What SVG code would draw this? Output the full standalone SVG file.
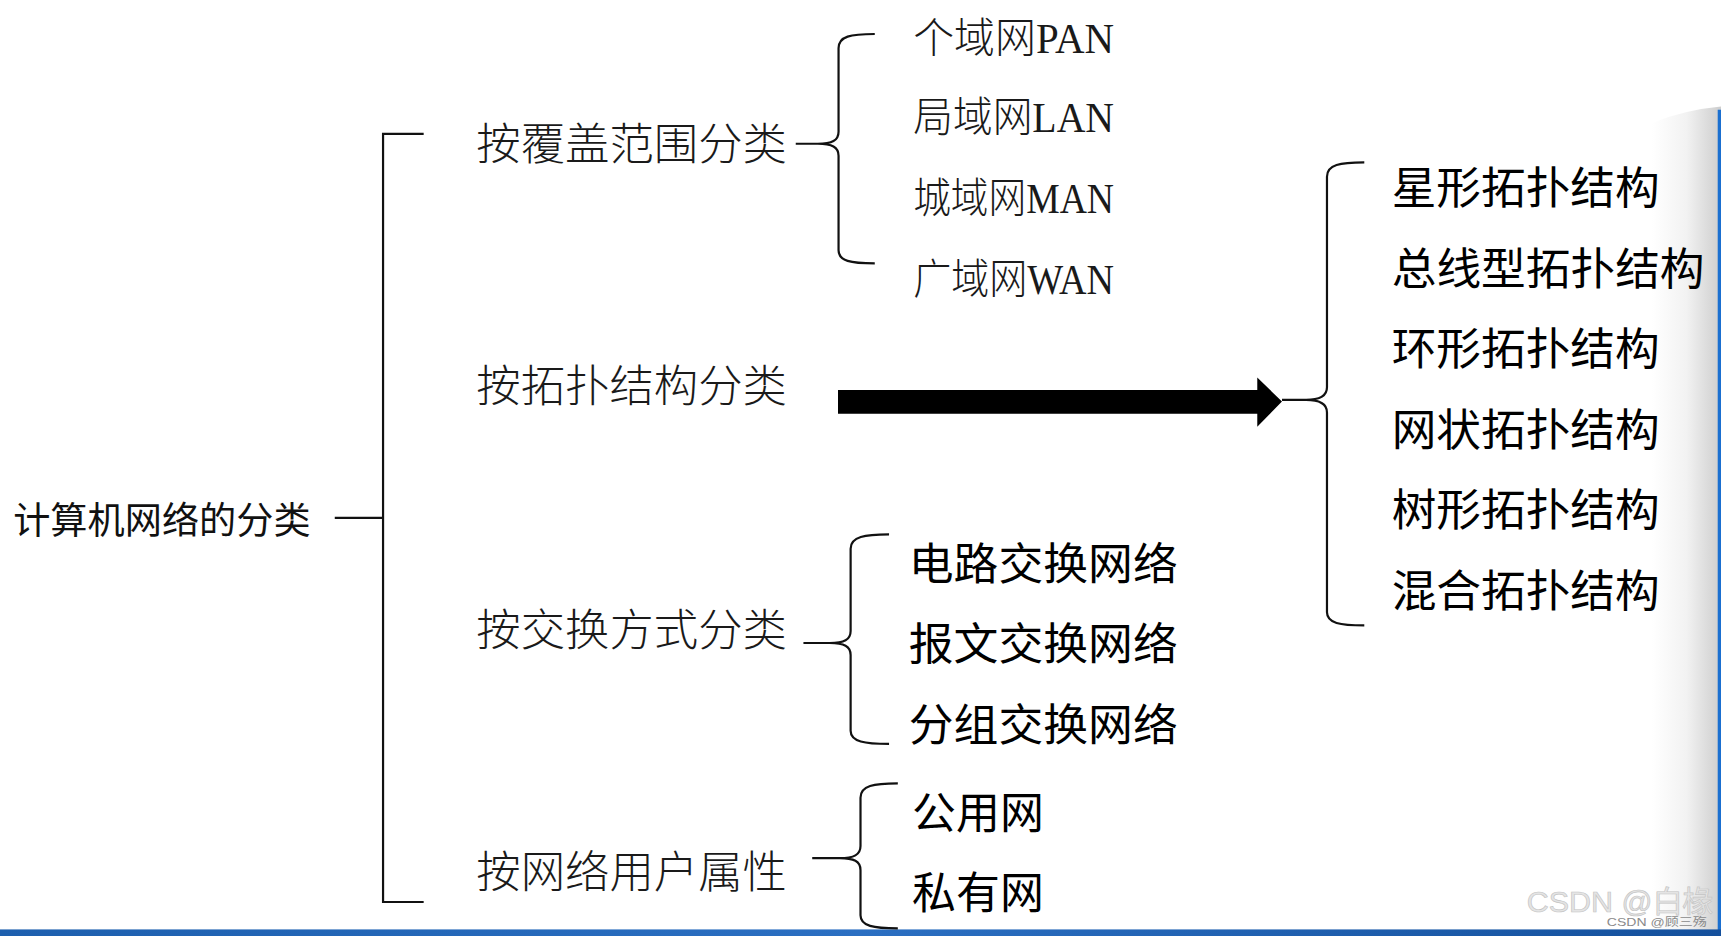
<svg xmlns="http://www.w3.org/2000/svg" width="1721" height="936" viewBox="0 0 1721 936">
<defs>
<linearGradient id="side" x1="0" y1="0" x2="1" y2="0">
<stop offset="0" stop-color="#ffffff"/>
<stop offset="0.5" stop-color="#f2f2f2"/>
<stop offset="1" stop-color="#cdcdcd"/>
</linearGradient>
<linearGradient id="bar" x1="0" y1="0" x2="1" y2="0">
<stop offset="0" stop-color="#1d5fae"/>
<stop offset="0.5" stop-color="#2b6fc2"/>
<stop offset="1" stop-color="#14509c"/>
</linearGradient>
<style>
.ln{fill:none;stroke:#111;stroke-width:2;stroke-linecap:butt}
.root{font-family:"Noto Sans CJK SC","Noto Sans",sans-serif;font-size:34px;fill:#111}
.l2{font-family:"Liberation Serif","Noto Sans CJK SC",serif;font-size:40px;font-weight:300;fill:#1a1a1a}
.lf{font-family:"Liberation Serif","Noto Sans CJK SC",serif;font-size:38px;font-weight:300;fill:#1a1a1a}
.sl{font-family:"Noto Sans CJK SC","Noto Sans",sans-serif;font-size:40px;fill:#000}
.wm{font-family:"Liberation Sans","Noto Sans CJK SC",sans-serif;font-size:27px;fill:#e4e4e4;stroke:#c4c4c4;stroke-width:0.6}
.wm2{font-family:"Liberation Sans","Noto Sans CJK SC",sans-serif;font-size:10px;fill:#8a8a8a}
text{dominant-baseline:central}
</style>
</defs>
<rect width="1721" height="936" fill="#ffffff"/>
<g transform="scale(1.09758,1.0973)">
<g id="background">
<path d="M1505,112 Q1535,100 1568,97 L1568,853 L1505,853 Z" fill="url(#side)"/>
<rect x="1565" y="100" width="3" height="753" fill="#1a6fd0"/>
<rect x="0" y="847" width="1568" height="6" fill="url(#bar)"/>
</g>
<g id="connectors">
<line class="ln" x1="305" y1="472" x2="349" y2="472"/>
<path class="ln" d="M386,122 L349,122 L349,822 L386,822"/>
<path class="ln" d="M797,31 C775,31 764,33 764,44 L764,120 C764,128 758,131 745,131 L725,131 M745,131 C758,131 764,134 764,142 L764,228 C764,238 775,240 797,240"/>
<path class="ln" d="M1243,148 C1221,148 1209,150 1209,161 L1209,353 C1209,361 1203,364.5 1190,364.5 L1168,364.5 M1190,364.5 C1203,364.5 1209,368 1209,376 L1209,558 C1209,568 1221,570 1243,570"/>
<path class="ln" d="M810,487 C788,487 775,489 775,500 L775,575 C775,583 769,586 756,586 L732,586 M756,586 C769,586 775,589 775,597 L775,666 C775,676 788,678 810,678"/>
<path class="ln" d="M818,714 C796,714 784,716 784,727 L784,771 C784,779 778,782 765,782 L740,782 M765,782 C778,782 784,785 784,793 L784,834 C784,844 796,846 818,846"/>
<polygon points="763.5,355.5 1145.5,355.5 1145.5,344 1168,366 1145.5,389 1145.5,377 763.5,377" fill="#000"/>
</g>
<g id="root"><text class="root" x="12" y="472" textLength="271" lengthAdjust="spacingAndGlyphs">计算机网络的分类</text></g>
<g id="by-range"><text class="l2" x="434" y="132" textLength="283" lengthAdjust="spacingAndGlyphs">按覆盖范围分类</text></g>
<g id="by-topology"><text class="l2" x="434" y="353" textLength="283" lengthAdjust="spacingAndGlyphs">按拓扑结构分类</text></g>
<g id="by-switching"><text class="l2" x="434" y="575" textLength="283" lengthAdjust="spacingAndGlyphs">按交换方式分类</text></g>
<g id="by-user"><text class="l2" x="434" y="796" textLength="283" lengthAdjust="spacingAndGlyphs">按网络用户属性</text></g>
<g id="pan"><text class="lf" x="832" y="36" textLength="183" lengthAdjust="spacingAndGlyphs">个域网PAN</text></g>
<g id="lan"><text class="lf" x="832" y="108" textLength="183" lengthAdjust="spacingAndGlyphs">局域网LAN</text></g>
<g id="man"><text class="lf" x="832" y="181" textLength="183" lengthAdjust="spacingAndGlyphs">城域网MAN</text></g>
<g id="wan"><text class="lf" x="832" y="255" textLength="183" lengthAdjust="spacingAndGlyphs">广域网WAN</text></g>
<g id="star"><text class="sl" x="1268" y="169" textLength="244" lengthAdjust="spacingAndGlyphs">星形拓扑结构</text></g>
<g id="bus"><text class="sl" x="1268" y="242" textLength="285" lengthAdjust="spacingAndGlyphs">总线型拓扑结构</text></g>
<g id="ring"><text class="sl" x="1268" y="315" textLength="244" lengthAdjust="spacingAndGlyphs">环形拓扑结构</text></g>
<g id="mesh"><text class="sl" x="1268" y="389" textLength="244" lengthAdjust="spacingAndGlyphs">网状拓扑结构</text></g>
<g id="tree"><text class="sl" x="1268" y="462" textLength="244" lengthAdjust="spacingAndGlyphs">树形拓扑结构</text></g>
<g id="hybrid"><text class="sl" x="1268" y="536" textLength="244" lengthAdjust="spacingAndGlyphs">混合拓扑结构</text></g>
<g id="circuit"><text class="sl" x="828" y="511" textLength="245" lengthAdjust="spacingAndGlyphs">电路交换网络</text></g>
<g id="message"><text class="sl" x="828" y="584" textLength="245" lengthAdjust="spacingAndGlyphs">报文交换网络</text></g>
<g id="packet"><text class="sl" x="828" y="658" textLength="245" lengthAdjust="spacingAndGlyphs">分组交换网络</text></g>
<g id="public"><text class="sl" x="831" y="738" textLength="120" lengthAdjust="spacingAndGlyphs">公用网</text></g>
<g id="private"><text class="sl" x="831" y="811" textLength="120" lengthAdjust="spacingAndGlyphs">私有网</text></g>
<g id="watermark">
<text class="wm" x="1391" y="822" textLength="170" lengthAdjust="spacingAndGlyphs">CSDN @白椽</text>
<text class="wm2" x="1464" y="840" textLength="91" lengthAdjust="spacingAndGlyphs">CSDN @顾三殇</text>
</g>
</g>
</svg>
